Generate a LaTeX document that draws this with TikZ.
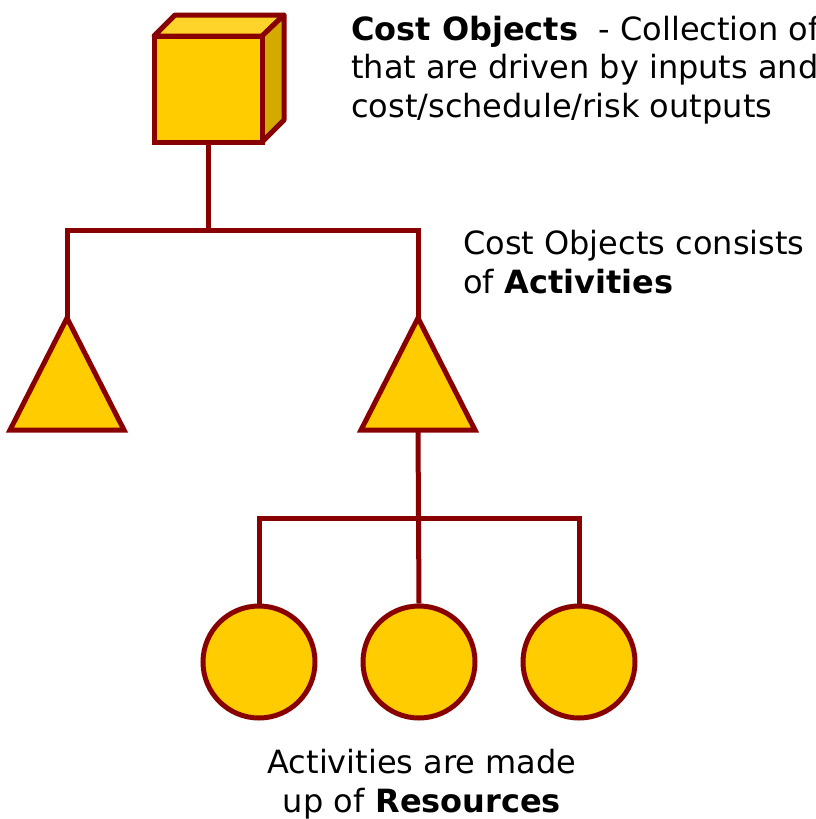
\documentclass[tikz,border=0pt]{standalone}
\usepackage{fontspec}
\setmainfont{DejaVu Sans}
\usetikzlibrary{positioning}
\definecolor{gold}{HTML}{FFCC00}
\definecolor{goldtop}{HTML}{FFD42A}
\definecolor{goldside}{HTML}{D4AA00}
\definecolor{maroon}{HTML}{880000}
\tikzset{
    part/.style={draw=maroon, line width=5pt, fill=gold, line join=miter},
    link/.style={draw=maroon, line width=5pt},
    note/.style={font=\fontsize{32}{38.5}\selectfont, inner sep=0pt},
}

\begin{document}
\begin{tikzpicture}[x=1pt, y=-1pt]
    \useasboundingbox (0, 0) rectangle (815, 819);
    \clip (0, 0) rectangle (815, 819);
    % cost object (cube)
    \filldraw[part, fill=goldtop, line join=round](154, 36)--(175, 15)--(284, 15)--(262, 36)--cycle;
    \filldraw[part, fill=goldside, line join=round](262, 36)--(284, 15)--(284, 120)--(262, 142)--cycle;
    \filldraw[part](154, 36)rectangle(262, 142);
    \coordinate (cube) at (208, 142);
    % activities
    \coordinate (act1) at (67, 318);
    \coordinate (act2) at (418, 318);
    \coordinate (act2base) at (418, 430);
    \foreach \a in {act1, act2}
        \filldraw[part](\a)--++(57, 112)--++(-114, 0)--cycle;
    % resources
    \node[part, circle, minimum size=112pt, inner sep=0pt] (res1) at (259, 662) {};
    \node[part, circle, minimum size=112pt, inner sep=0pt] (res2) at (419, 662) {};
    \node[part, circle, minimum size=112pt, inner sep=0pt] (res3) at (579, 662) {};
    % tree
    \draw[link](cube)--(208, 230);
    \draw[link](act1)|-(208, 230)-|(act2);
    \draw[link](act2base)--(res2.north);
    \draw[link](res1.north)|-(419, 518)-|(res3.north);
    % labels
    \node[note, anchor=base west, align=left] (costtxt) at (351, 117)
        {\textbf{Cost Objects}\ \ - Collection of\\that are driven by inputs and\\cost/schedule/risk outputs};
    \node[note, anchor=base west, align=left] (acttxt) at (463, 293)
        {Cost Objects consists\\of \textbf{Activities}};
    \node[note, anchor=base, align=center] (restxt) at (422, 812)
        {Activities are made\\up of \textbf{Resources}};
\end{tikzpicture}
\end{document}
